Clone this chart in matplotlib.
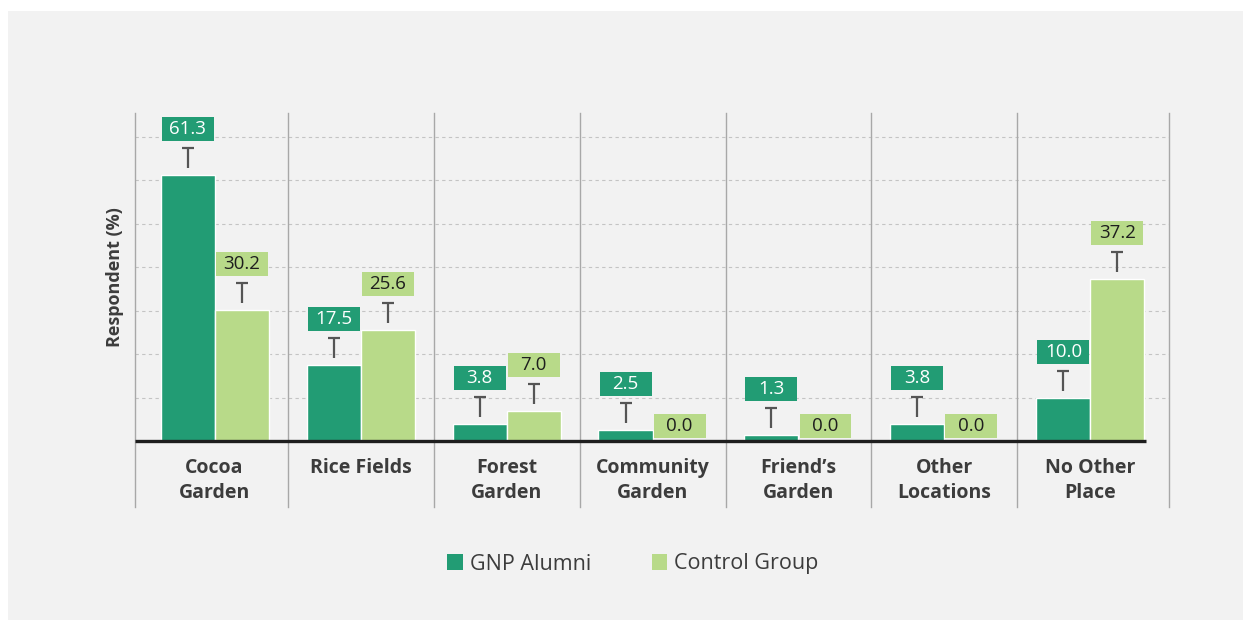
import numpy as np
import matplotlib
matplotlib.use("Agg")
import matplotlib.pyplot as plt
from matplotlib.patches import Rectangle, Patch

# ---------------------------------------------------------------------------
#  DATA
# ---------------------------------------------------------------------------
categories = ["Cocoa\nGarden", "Rice Fields", "Forest\nGarden", "Community\nGarden",
              "Friend\u2019s\nGarden", "Other\nLocations", "No Other\nPlace"]
gnp_alumni = [61.3, 17.5, 3.8, 2.5, 1.3, 3.8, 10.0]
control_group = [30.2, 25.6, 7.0, 0.0, 0.0, 0.0, 37.2]
series_names = ["GNP Alumni", "Control Group"]

# ---------------------------------------------------------------------------
#  STYLE
# ---------------------------------------------------------------------------
plt.rcParams['font.family'] = ['Open Sans', 'DejaVu Sans']
COL_GNP = '#229c74'
COL_CTRL = '#b8da89'
BG = '#f2f2f2'
TXT = '#3c3c3c'

W, H = 1243, 620
fig = plt.figure(figsize=(W / 100, H / 100), dpi=100)
fig.patch.set_facecolor('white')
fig.add_artist(Rectangle((8 / W, 0), 1, 1 - 11 / H, transform=fig.transFigure,
                         facecolor=BG, edgecolor='none', zorder=0))

# axes box in pixels: left 135, right 1169, baseline 441, top 113
ax = fig.add_axes([135 / W, 1 - 441 / H, (1169 - 135) / W, (441 - 113) / H])
ax.set_facecolor('none')

YMAX = 75.5
ax.set_ylim(0, YMAX)
ax.set_xlim(-0.545, 6.538)
px_y = YMAX / 328.0      # data units per pixel (vertical)
px_x = 1 / 146.0         # data units per pixel (horizontal)

for s in ax.spines.values():
    s.set_visible(False)
ax.set_xticks([])
ax.set_yticks([])

# grid lines
for g in np.arange(10, 71, 10):
    ax.axhline(g, color='#c4c4c4', lw=0.8, ls=(0, (3, 3)), zorder=1)

# category separators (extend below the axis through the labels)
sep = [ax.get_xlim()[0]] + [i + 0.5 for i in range(len(categories) - 1)] + [ax.get_xlim()[1]]
for xs in sep:
    ax.plot([xs, xs], [-0.201, 1.0], transform=ax.get_xaxis_transform(),
            color='#a8a8a8', lw=1.0, clip_on=False, zorder=1)

x = np.arange(len(categories))
bw = 0.37
series = [(gnp_alumni, COL_GNP, 'white', -bw / 2),
          (control_group, COL_CTRL, '#1e1e1e', bw / 2)]

for vals, col, tcol, off in series:
    ax.bar(x + off, vals, width=bw, color=col, edgecolor='white', lw=1.0, zorder=3)
    for xi, v in zip(x + off, vals):
        if v > 0:
            t0 = v + 7 * px_y
            t1 = t0 + 20 * px_y
            ax.plot([xi, xi], [t0, t1], color='#555555', lw=1.6, zorder=4,
                    solid_capstyle='butt')
            ax.plot([xi - 6 * px_x, xi + 6 * px_x], [t1, t1], color='#555555',
                    lw=1.6, zorder=4, solid_capstyle='butt')
            b0 = t1 + 7 * px_y
        else:
            b0 = 3 * px_y
        bh = 24 * px_y
        bwid = 52 * px_x
        ax.add_patch(Rectangle((xi - bwid / 2, b0), bwid, bh, facecolor=col,
                               edgecolor='none', zorder=5, clip_on=False))
        ax.text(xi, b0 + bh / 2, f"{v:.1f}", ha='center', va='center',
                color=tcol, fontsize=13.5, zorder=6, clip_on=False)

# baseline
ax.plot([ax.get_xlim()[0], x[-1] + bw + 2 * px_x], [0, 0], color='#1e1e1e',
        lw=2.4, zorder=6, solid_capstyle='butt', clip_on=False)

# category labels
for xi, lab in zip(x + 0.0, categories):
    ax.text(xi, -17 * px_y, lab, ha='center', va='top', fontsize=14,
            fontweight='bold', color=TXT, linespacing=1.3)

ax.set_ylabel("Respondent (%)", fontsize=13, fontweight='bold', color=TXT,
              labelpad=8)

# legend
handles = [Patch(facecolor=COL_GNP, edgecolor='none'),
           Patch(facecolor=COL_CTRL, edgecolor='none')]
fig.legend(handles, series_names, loc='center', bbox_to_anchor=(633 / W, 1 - 564 / H),
           ncol=2, frameon=False, fontsize=15.5, handlelength=0.7, handleheight=0.7,
           handletextpad=0.35, columnspacing=2.8, labelcolor=TXT)

fig.savefig("out.png", dpi=100, facecolor=fig.get_facecolor())
